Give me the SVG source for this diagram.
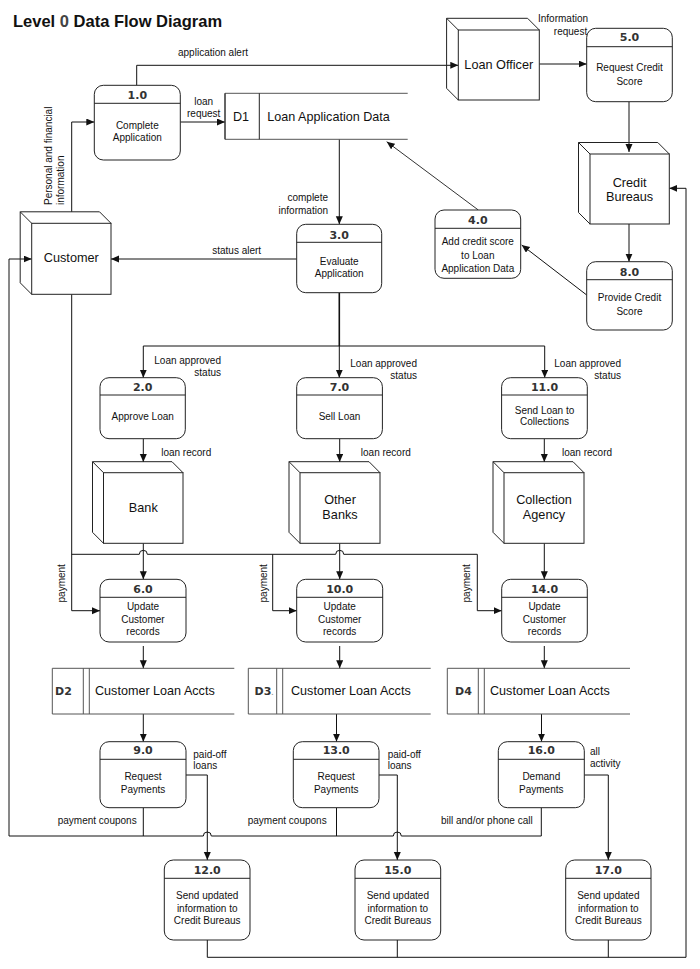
<svg xmlns="http://www.w3.org/2000/svg" width="700" height="969" viewBox="0 0 700 969">
<style>
text{font-family:"Liberation Sans",Arial,sans-serif;fill:#111}
.t{font-size:10px;text-anchor:middle}
.l{font-size:10px}
.e{font-size:12.7px;text-anchor:middle}
.s{font-size:12.6px}
.n{font-family:"DejaVu Sans",Verdana,sans-serif;font-weight:bold;font-size:11px;fill:#333;text-anchor:middle}
.sid{font-family:"DejaVu Sans",Verdana,sans-serif;font-weight:bold;font-size:11px;fill:#333}
.p{fill:#fff;stroke:#222;stroke-width:1}
.h{stroke:#222;stroke-width:1}
.b{fill:#fff;stroke:#222;stroke-width:1}
.bk{fill:none;stroke:#222;stroke-width:1}
.ds{fill:none;stroke:#555;stroke-width:1}
.c path{fill:none;stroke:#111;stroke-width:1}
.c path.a{marker-end:url(#ar)}
</style>
<defs>
<marker id="ar" markerWidth="9" markerHeight="8" refX="8" refY="3.5" orient="auto" markerUnits="userSpaceOnUse">
<path d="M0,0 L8,3.5 L0,7 z" fill="#111"/>
</marker>
</defs>
<rect width="700" height="969" fill="#fff"/>
<text x="13" y="27" style="font-size:16.5px;font-weight:bold">Level <tspan fill="#444">0</tspan> Data Flow Diagram</text>

<g class="c" id="connectors">
<path class="a" d="M136.7,85.3 V65.3 H458.3"/>
<path class="a" d="M71.7,211.8 V122 H94.3"/>
<path class="a" d="M180.3,122 H225"/>
<path class="a" d="M539.3,64 H586.7"/>
<path class="a" d="M629,101.7 V152"/>
<path class="a" d="M629,224 V261.7"/>
<path class="a" d="M586.7,295 L521.7,245"/>
<path class="a" d="M478.3,210 L386.7,141.7" style="stroke:#333"/>
<path class="a" d="M339.3,139.3 V224.3"/>
<path class="a" d="M296.7,259 H111"/>
<path d="M339.3,292.7 V346" style="stroke-width:1.6"/>
<path d="M143.3,346 H544.7"/>
<path class="a" d="M143.3,346 V377.7"/>
<path class="a" d="M339.3,346 V377.7"/>
<path class="a" d="M544.7,346 V377.7"/>
<path class="a" d="M143.3,438.7 V462"/>
<path class="a" d="M339.7,438.7 V462"/>
<path class="a" d="M544.3,438.7 V462"/>
<path class="a" d="M143.3,543.3 V579.3"/>
<path class="a" d="M339.7,543.3 V579.3"/>
<path class="a" d="M544.3,543.3 V579.3"/>
<path class="a" d="M71.7,294.3 V610.7 H100"/>
<path class="a" d="M71.7,554.3 H139.3 A4,4 0 0 1 147.3,554.3 H335.7 A4,4 0 0 1 343.7,554.3 H477.3 V610.7 H501.7"/>
<path class="a" d="M272.7,554.3 V610.7 H296.7"/>
<path class="a" d="M143.3,646 V668.3"/>
<path class="a" d="M339.7,646 V668.3"/>
<path class="a" d="M544.3,646 V668.3"/>
<path class="a" d="M143.3,714 V741.7"/>
<path class="a" d="M336.5,714 V741.7"/>
<path class="a" d="M541.5,714 V741.7"/>
<path class="a" d="M186,775 H207.3 V860"/>
<path class="a" d="M379,775 H397.3 V860"/>
<path class="a" d="M584.3,775 H608.3 V860"/>
<path class="a" d="M541.3,807.7 V836 H401.3 A4,4 0 0 0 393.3,836 H211.3 A4,4 0 0 0 203.3,836 H9 V259 H31.7"/>
<path d="M143.3,807.7 V836"/>
<path d="M336.5,807.7 V836"/>
<path class="a" d="M207.3,940 V957.3 H686 V188.3 H669.3"/>
<path d="M397.3,940 V957.3"/>
<path d="M608.3,940 V957.3"/>
</g>

<g id="labels">
<text class="l" x="178" y="55.5">application alert</text>
<text class="t" x="203.7" y="104.5">loan</text>
<text class="t" x="203.7" y="117">request</text>
<text class="t" x="563" y="21.5">Information</text>
<text class="t" x="570.5" y="34.5">request</text>
<text class="l" x="328" y="200.5" text-anchor="end">complete</text>
<text class="l" x="328" y="213.5" text-anchor="end">information</text>
<text class="t" x="236.7" y="253.5">status alert</text>
<text class="l" transform="translate(52,205) rotate(-90)">Personal and financial</text>
<text class="l" transform="translate(64,205) rotate(-90)">information</text>
<text class="l" x="221" y="364" text-anchor="end">Loan approved</text>
<text class="l" x="221" y="376" text-anchor="end">status</text>
<text class="l" x="417" y="367" text-anchor="end">Loan approved</text>
<text class="l" x="417" y="379" text-anchor="end">status</text>
<text class="l" x="621" y="367" text-anchor="end">Loan approved</text>
<text class="l" x="621" y="379" text-anchor="end">status</text>
<text class="l" x="161.2" y="456">loan record</text>
<text class="l" x="360.8" y="456">loan record</text>
<text class="l" x="562" y="456">loan record</text>
<text class="t" transform="translate(64.5,583.3) rotate(-90)">payment</text>
<text class="t" transform="translate(266.8,583.3) rotate(-90)">payment</text>
<text class="t" transform="translate(470.2,583.3) rotate(-90)">payment</text>
<text class="l" x="193.3" y="757.5">paid-off</text>
<text class="l" x="193.3" y="769">loans</text>
<text class="l" x="387.7" y="757.5">paid-off</text>
<text class="l" x="387.7" y="769">loans</text>
<text class="l" x="590" y="755">all</text>
<text class="l" x="590" y="767">activity</text>
<text class="l" x="136.7" y="823.5" text-anchor="end">payment coupons</text>
<text class="l" x="326.7" y="823.5" text-anchor="end">payment coupons</text>
<text class="l" x="532.7" y="823.5" text-anchor="end">bill and/or phone call</text>
</g>

<!-- external entities -->
<g id="loan-officer">
<rect class="b" x="458.3" y="30" width="81" height="70"/>
<path class="bk" d="M446.6,18.3 H527.6 L539.3,30 M446.6,18.3 V88.3 L458.3,100 M446.6,18.3 L458.3,30"/>
<text class="e" x="498.8" y="68.5">Loan Officer</text>
</g>
<g id="credit-bureaus">
<rect class="b" x="590" y="154" width="79.3" height="70"/>
<path class="bk" d="M578.5,142.5 H657.8 L669.3,154 M578.5,142.5 V212.5 L590,224 M578.5,142.5 L590,154"/>
<text class="e" x="629.6" y="187">Credit</text>
<text class="e" x="629.6" y="200.5">Bureaus</text>
</g>
<g id="customer">
<rect class="b" x="31.7" y="223.3" width="79.3" height="71"/>
<path class="bk" d="M20.2,211.8 H99.5 L111,223.3 M20.2,211.8 V282.8 L31.7,294.3 M20.2,211.8 L31.7,223.3"/>
<text class="e" x="71.3" y="262">Customer</text>
</g>
<g id="bank">
<rect class="b" x="103.5" y="472.7" width="79.5" height="70.6"/>
<path class="bk" d="M92.5,461.7 H172 L183,472.7 M92.5,461.7 V532.3 L103.5,543.3 M92.5,461.7 L103.5,472.7"/>
<text class="e" x="143.3" y="512">Bank</text>
</g>
<g id="other-banks">
<rect class="b" x="300" y="472.7" width="80" height="70.6"/>
<path class="bk" d="M289,461.7 H369 L380,472.7 M289,461.7 V532.3 L300,543.3 M289,461.7 L300,472.7"/>
<text class="e" x="340" y="503.5">Other</text>
<text class="e" x="340" y="518.5">Banks</text>
</g>
<g id="collection-agency">
<rect class="b" x="504" y="472.7" width="80" height="70.6"/>
<path class="bk" d="M493,461.7 H573 L584,472.7 M493,461.7 V532.3 L504,543.3 M493,461.7 L504,472.7"/>
<text class="e" x="544" y="503.5">Collection</text>
<text class="e" x="544" y="518.5">Agency</text>
</g>

<!-- data stores -->
<g id="d1">
<path class="ds" d="M407.7,93.3 H225 V139.3 H407.7"/>
<path class="h" d="M225,93.3 V139.3 M259.3,93.3 V139.3"/>
<text class="s" x="233" y="121">D1</text>
<text class="s" x="267.3" y="121">Loan Application Data</text>
</g>
<g id="d2">
<path class="ds" d="M234.3,668.3 H52.3 V714 H234.3 M83.3,668.3 V714 M89.3,668.3 V714"/>
<text class="sid" x="55" y="695">D2</text>
<text class="s" x="95" y="695">Customer Loan Accts</text>
</g>
<g id="d3">
<path class="ds" d="M430.7,668.3 H248.3 V714 H430.7 M276.7,668.3 V714 M282.7,668.3 V714"/>
<text class="sid" x="254.5" y="695">D3<tspan style="font-size:6px;fill:#999">.</tspan></text>
<text class="s" x="291" y="695">Customer Loan Accts</text>
</g>
<g id="d4">
<path class="ds" d="M630,668.3 H447.3 V714 H630 M478.3,668.3 V714 M484.3,668.3 V714"/>
<text class="sid" x="455" y="695">D4</text>
<text class="s" x="490" y="695">Customer Loan Accts</text>
</g>

<!-- processes -->
<g id="p1">
<rect class="p" x="94.3" y="85.3" width="86" height="74.7" rx="9"/>
<path class="h" d="M94.3,103.3 H180.3"/>
<text class="n" x="137.3" y="99">1.0</text>
<text class="t" x="137.3" y="128.5">Complete</text>
<text class="t" x="137.3" y="140.5">Application</text>
</g>
<g id="p5">
<rect class="p" x="586.7" y="28.3" width="85.6" height="73.4" rx="9"/>
<path class="h" d="M586.7,46.7 H672.3"/>
<text class="n" x="629.5" y="41">5.0</text>
<text class="t" x="629.5" y="70.5">Request Credit</text>
<text class="t" x="629.5" y="84.5">Score</text>
</g>
<g id="p3">
<rect class="p" x="296.7" y="224.3" width="85" height="68.4" rx="9"/>
<path class="h" d="M296.7,242.3 H381.7"/>
<text class="n" x="339.2" y="238.5">3.0</text>
<text class="t" x="339.2" y="264.5">Evaluate</text>
<text class="t" x="339.2" y="276.8">Application</text>
</g>
<g id="p4">
<rect class="p" x="435" y="210" width="85.7" height="68.3" rx="9"/>
<path class="h" d="M435,228.3 H520.7"/>
<text class="n" x="477.8" y="224">4.0</text>
<text class="t" x="477.8" y="244.5">Add credit score</text>
<text class="t" x="477.8" y="258.5">to Loan</text>
<text class="t" x="477.8" y="271.5">Application Data</text>
</g>
<g id="p8">
<rect class="p" x="586.7" y="261.7" width="85.6" height="68.3" rx="9"/>
<path class="h" d="M586.7,279.7 H672.3"/>
<text class="n" x="629.5" y="275.5">8.0</text>
<text class="t" x="629.5" y="301">Provide Credit</text>
<text class="t" x="629.5" y="314.5">Score</text>
</g>
<g id="p2">
<rect class="p" x="100" y="377.7" width="85.3" height="61" rx="9"/>
<path class="h" d="M100,395 H185.3"/>
<text class="n" x="142.7" y="391.3">2.0</text>
<text class="t" x="142.7" y="419.5">Approve Loan</text>
</g>
<g id="p7">
<rect class="p" x="296.7" y="377.7" width="85.7" height="61" rx="9"/>
<path class="h" d="M296.7,395 H382.4"/>
<text class="n" x="339.5" y="391.3">7.0</text>
<text class="t" x="339.5" y="419.5">Sell Loan</text>
</g>
<g id="p11">
<rect class="p" x="501.6" y="377.7" width="85.7" height="61" rx="9"/>
<path class="h" d="M501.6,395 H587.3"/>
<text class="n" x="544.5" y="391.3">11.0</text>
<text class="t" x="544.5" y="413.8">Send Loan to</text>
<text class="t" x="544.5" y="425.2">Collections</text>
</g>
<g id="p6">
<rect class="p" x="100" y="579.3" width="86" height="62.7" rx="9"/>
<path class="h" d="M100,597.3 H186"/>
<text class="n" x="143" y="593">6.0</text>
<text class="t" x="143" y="610">Update</text>
<text class="t" x="143" y="622.5">Customer</text>
<text class="t" x="143" y="634.5">records</text>
</g>
<g id="p10">
<rect class="p" x="296.7" y="579.3" width="86" height="62.7" rx="9"/>
<path class="h" d="M296.7,597.3 H382.7"/>
<text class="n" x="339.7" y="593">10.0</text>
<text class="t" x="339.7" y="610">Update</text>
<text class="t" x="339.7" y="622.5">Customer</text>
<text class="t" x="339.7" y="634.5">records</text>
</g>
<g id="p14">
<rect class="p" x="501.7" y="579.3" width="85.6" height="62.7" rx="9"/>
<path class="h" d="M501.7,597.3 H587.3"/>
<text class="n" x="544.5" y="593">14.0</text>
<text class="t" x="544.5" y="610">Update</text>
<text class="t" x="544.5" y="622.5">Customer</text>
<text class="t" x="544.5" y="634.5">records</text>
</g>
<g id="p9">
<rect class="p" x="100" y="741.7" width="86" height="66" rx="9"/>
<path class="h" d="M100,759.3 H186"/>
<text class="n" x="143" y="754">9.0</text>
<text class="t" x="143" y="780">Request</text>
<text class="t" x="143" y="792.5">Payments</text>
</g>
<g id="p13">
<rect class="p" x="293.3" y="741.7" width="85.7" height="66" rx="9"/>
<path class="h" d="M293.3,759.3 H379"/>
<text class="n" x="336.2" y="754">13.0</text>
<text class="t" x="336.2" y="780">Request</text>
<text class="t" x="336.2" y="792.5">Payments</text>
</g>
<g id="p16">
<rect class="p" x="498.3" y="741.7" width="86" height="66" rx="9"/>
<path class="h" d="M498.3,759.3 H584.3"/>
<text class="n" x="541.3" y="754">16.0</text>
<text class="t" x="541.3" y="780">Demand</text>
<text class="t" x="541.3" y="792.5">Payments</text>
</g>
<g id="p12">
<rect class="p" x="164.3" y="860" width="85.7" height="80" rx="9"/>
<path class="h" d="M164.3,878.3 H250"/>
<text class="n" x="207.2" y="874">12.0</text>
<text class="t" x="207.2" y="899">Send updated</text>
<text class="t" x="207.2" y="911.5">information to</text>
<text class="t" x="207.2" y="924">Credit Bureaus</text>
</g>
<g id="p15">
<rect class="p" x="355" y="860" width="85.7" height="80" rx="9"/>
<path class="h" d="M355,878.3 H440.7"/>
<text class="n" x="397.8" y="874">15.0</text>
<text class="t" x="397.8" y="899">Send updated</text>
<text class="t" x="397.8" y="911.5">information to</text>
<text class="t" x="397.8" y="924">Credit Bureaus</text>
</g>
<g id="p17">
<rect class="p" x="565.7" y="860" width="85.3" height="80" rx="9"/>
<path class="h" d="M565.7,878.3 H651"/>
<text class="n" x="608.3" y="874">17.0</text>
<text class="t" x="608.3" y="899">Send updated</text>
<text class="t" x="608.3" y="911.5">information to</text>
<text class="t" x="608.3" y="924">Credit Bureaus</text>
</g>
</svg>
